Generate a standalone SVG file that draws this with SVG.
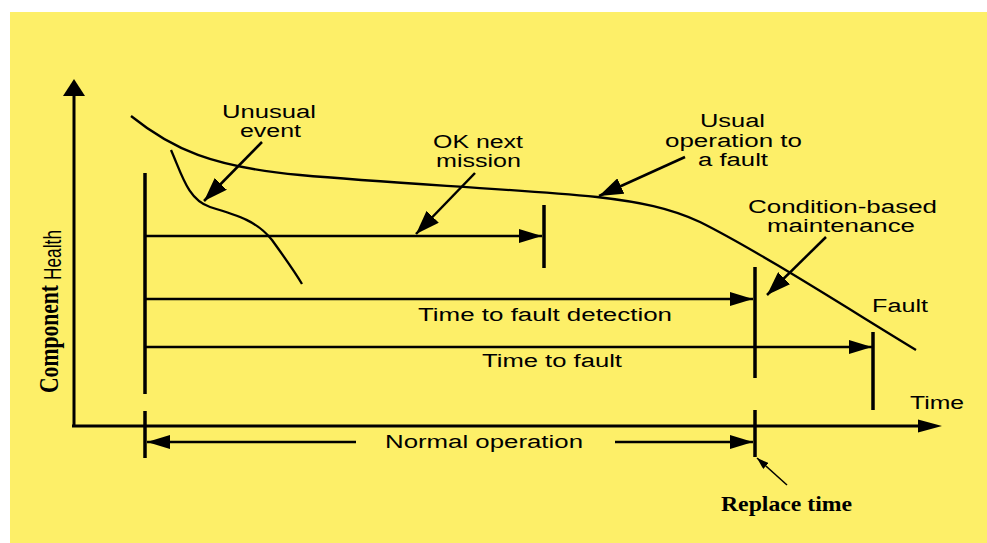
<svg xmlns="http://www.w3.org/2000/svg" width="987" height="543" viewBox="0 0 987 543">
<style>
.ln{stroke:#000;stroke-width:2.5;fill:none}
.bar{stroke:#000;stroke-width:3.5;fill:none}
.ax{stroke:#000;stroke-width:3;fill:none}
.cv{stroke:#000;stroke-width:2.3;fill:none}
.t{font-family:"Liberation Sans",Arial,sans-serif;font-size:18px;fill:#000}
.s{font-family:"Liberation Serif","Times New Roman",serif;font-weight:bold;fill:#000}
</style>
<defs>
<marker id="ah" viewBox="0 0 23 14" markerWidth="23" markerHeight="14" refX="23" refY="7" orient="auto" markerUnits="userSpaceOnUse"><path d="M0,0 L23,7 L0,14 z" fill="#000"/></marker>
<marker id="aa" viewBox="0 0 24 17" markerWidth="24" markerHeight="17" refX="24" refY="8.5" orient="auto" markerUnits="userSpaceOnUse"><path d="M0,0 L24,8.5 L0,17 z" fill="#000"/></marker>
<marker id="as" viewBox="0 0 12 8" markerWidth="12" markerHeight="8" refX="12" refY="4" orient="auto" markerUnits="userSpaceOnUse"><path d="M0,0 L12,4 L0,8 z" fill="#000"/></marker>
</defs>
<rect x="10" y="12" width="977" height="531" fill="#FDEF68"/>
<g id="axes">
<line class="ax" x1="74" y1="427" x2="74" y2="92"/>
<polygon points="63,96 74,79 85,96" fill="#000"/>
<line class="ax" x1="72" y1="426" x2="922" y2="426"/>
<polygon points="918,419.5 942,426 918,432.5" fill="#000"/>
<text class="t" x="910" y="409" textLength="54" lengthAdjust="spacingAndGlyphs">Time</text>
<g transform="translate(58,393) rotate(-90)">
<text class="s" x="0" y="0" style="font-size:27px" textLength="108" lengthAdjust="spacingAndGlyphs">Component</text>
<text class="t" x="113" y="3" style="font-size:23px" textLength="50" lengthAdjust="spacingAndGlyphs">Health</text>
</g>
</g>
<g id="curves">
<path class="cv" d="M131,116 C172,149 212,167 300,175 C400,184 500,188 597,197 C640,202 670,208 700,222 C760,252 850,310 916,350"/>
<path class="cv" d="M171,150 C182,175 188,200 210,207 C240,216 258,222 272,240 C285,258 295,272 302,284"/>
</g>
<g id="bars">
<line class="bar" x1="145" y1="173" x2="145" y2="394"/>
<line class="bar" x1="145" y1="411" x2="145" y2="458"/>
<line class="bar" x1="544" y1="205" x2="544" y2="268"/>
<line class="bar" x1="755" y1="267" x2="755" y2="378"/>
<line class="bar" x1="755" y1="410" x2="755" y2="457"/>
<line class="bar" x1="873" y1="332" x2="873" y2="410"/>
</g>
<g id="connectors">
<line class="ln" x1="145" y1="236" x2="542" y2="236" marker-end="url(#ah)"/>
<line class="ln" x1="145" y1="299" x2="753" y2="299" marker-end="url(#ah)"/>
<line class="ln" x1="145" y1="347" x2="872" y2="347" marker-end="url(#ah)"/>
<line class="ln" x1="356" y1="442" x2="147" y2="442" marker-end="url(#ah)"/>
<line class="ln" x1="615" y1="442" x2="753" y2="442" marker-end="url(#ah)"/>
<line class="ln" x1="262" y1="142" x2="204" y2="201" marker-end="url(#aa)"/>
<line class="ln" x1="475" y1="173" x2="416" y2="234" marker-end="url(#aa)"/>
<line class="ln" x1="685" y1="157" x2="599" y2="196" marker-end="url(#aa)"/>
<line class="ln" x1="826" y1="237" x2="767" y2="295" marker-end="url(#aa)"/>
<line stroke="#000" stroke-width="1.5" x1="787" y1="485" x2="757" y2="458" marker-end="url(#as)"/>
</g>
<g id="labels">
<text class="t" x="222" y="118" textLength="94" lengthAdjust="spacingAndGlyphs">Unusual</text>
<text class="t" x="240" y="137" textLength="61" lengthAdjust="spacingAndGlyphs">event</text>
<text class="t" x="433" y="148" textLength="90" lengthAdjust="spacingAndGlyphs">OK next</text>
<text class="t" x="436" y="167" textLength="85" lengthAdjust="spacingAndGlyphs">mission</text>
<text class="t" x="700" y="127" textLength="65" lengthAdjust="spacingAndGlyphs">Usual</text>
<text class="t" x="665" y="147" textLength="137" lengthAdjust="spacingAndGlyphs">operation to</text>
<text class="t" x="698" y="166" textLength="70" lengthAdjust="spacingAndGlyphs">a fault</text>
<text class="t" x="748" y="213" textLength="189" lengthAdjust="spacingAndGlyphs">Condition-based</text>
<text class="t" x="767" y="232" textLength="148" lengthAdjust="spacingAndGlyphs">maintenance</text>
<text class="t" x="872" y="312" textLength="56" lengthAdjust="spacingAndGlyphs">Fault</text>
<text class="t" x="418" y="321" textLength="254" lengthAdjust="spacingAndGlyphs">Time to fault detection</text>
<text class="t" x="482" y="367" textLength="140" lengthAdjust="spacingAndGlyphs">Time to fault</text>
<text class="t" x="385" y="448" textLength="198" lengthAdjust="spacingAndGlyphs">Normal operation</text>
<text class="s" x="721" y="511" style="font-size:21px" textLength="131" lengthAdjust="spacingAndGlyphs">Replace time</text>
</g>
</svg>
